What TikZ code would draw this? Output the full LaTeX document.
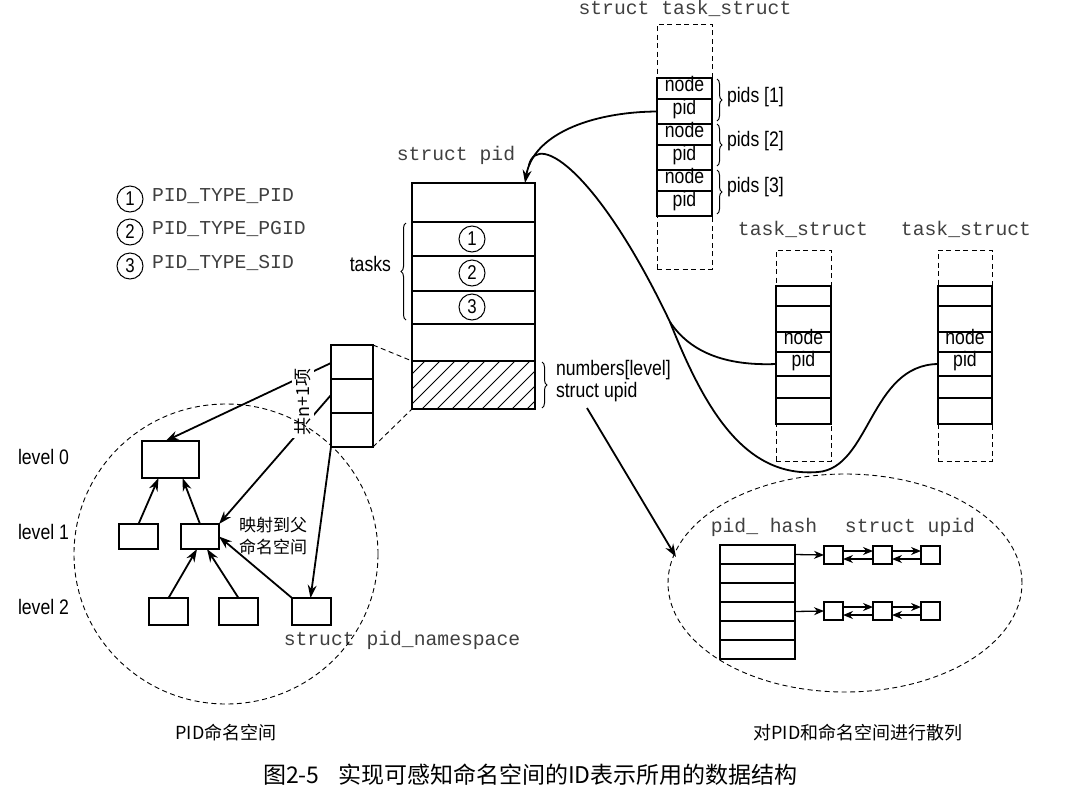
\documentclass[tikz,border=0pt]{standalone}
\usepackage{fontspec}
\setmainfont{Liberation Sans}[FakeStretch=0.84]
\newfontfamily\monofont{Liberation Mono}
\newfontfamily\cjkfont{Noto Sans CJK SC}
\usetikzlibrary{arrows.meta,decorations.pathreplacing,calc}
\begin{document}
\begin{tikzpicture}[x=1pt,y=-1pt,
  every node/.style={inner sep=0pt, outer sep=0pt},
  sanslab/.style={font=\fontsize{21}{23}\selectfont, text height=0.72em, text depth=0.2em},
  monolab/.style={font=\monofont\fontsize{19.7}{22}\selectfont, text=black!75, text height=0.62em, text depth=0.2em},
  cjklab/.style={font=\cjkfont\fontsize{17}{22}\selectfont},
  cellbox/.style={draw, line width=1.1pt, anchor=north west, sanslab},
  dbox/.style={draw, line width=0.9pt, dash pattern=on 5pt off 3.5pt, anchor=north west},
  circ/.style={draw, circle, line width=1pt, minimum size=26pt, font=\fontsize{20}{20}\selectfont},
  conn/.style={line width=1.8pt},
  arr/.style={conn, -{Stealth[length=13pt,width=9pt]}},
  sarr/.style={line width=1.3pt, -{Stealth[length=10pt,width=8pt]}},
  brc/.style={decorate, decoration={brace, amplitude=5pt}, line width=1pt},
  dl/.style={line width=0.9pt, dash pattern=on 5pt off 3.5pt},
]
\useasboundingbox (0,0) rectangle (1090,793);

% ---------- top task_struct ----------
\node[monolab] (tstitle) at (685,12) {struct task\_struct};
\node[dbox, minimum width=55pt, minimum height=245pt] (ts) at (657,24) {};
\node[cellbox, fill=white, minimum width=55pt, minimum height=21pt] (tsn1) at (657,78) {node};
\node[cellbox, fill=white, minimum width=55pt, minimum height=25pt] (tsp1) at (657,99) {pid};
\node[cellbox, fill=white, minimum width=55pt, minimum height=21pt] (tsn2) at (657,124) {node};
\node[cellbox, fill=white, minimum width=55pt, minimum height=25pt] (tsp2) at (657,145) {pid};
\node[cellbox, fill=white, minimum width=55pt, minimum height=21pt] (tsn3) at (657,170) {node};
\node[cellbox, fill=white, minimum width=55pt, minimum height=25pt] (tsp3) at (657,191) {pid};
\draw[brc] (717,79) -- (717,121);
\draw[brc] (717,124) -- (717,166);
\draw[brc] (717,170) -- (717,214);
\node[sanslab, anchor=west] (pids1) at (727,100) {pids [1]};
\node[sanslab, anchor=west] (pids2) at (727,144) {pids [2]};
\node[sanslab, anchor=west] (pids3) at (727,190) {pids [3]};

% ---------- legend ----------
\node[circ] (lg1) at (130,199) {1};
\node[circ] (lg2) at (130,232) {2};
\node[circ] (lg3) at (130,266) {3};
\node[monolab, anchor=west] (lt1) at (152,199) {PID\_TYPE\_PID};
\node[monolab, anchor=west] (lt2) at (152,232) {PID\_TYPE\_PGID};
\node[monolab, anchor=west] (lt3) at (152,266) {PID\_TYPE\_SID};

% ---------- struct pid ----------
\node[monolab] (sptitle) at (456,158) {struct pid};
\node[cellbox, minimum width=123pt, minimum height=39pt] (sp1) at (412,183) {};
\node[cellbox, minimum width=123pt, minimum height=34pt] (sp2) at (412,222) {};
\node[cellbox, minimum width=123pt, minimum height=35pt] (sp3) at (412,256) {};
\node[cellbox, minimum width=123pt, minimum height=33pt] (sp4) at (412,291) {};
\node[cellbox, minimum width=123pt, minimum height=37pt] (sp5) at (412,324) {};
\node[cellbox, minimum width=123pt, minimum height=48pt] (sph) at (412,361) {};
\begin{scope}
  \clip (sph.south west) rectangle (sph.north east);
  \foreach \i in {-50,-35,...,130} \draw[line width=0.9pt] (412+\i,409) -- (460+\i,361);
\end{scope}
\draw[line width=1.1pt] (sph.south west) rectangle (sph.north east);
\node[circ] (c1) at (472,239) {1};
\node[circ] (c2) at (472,273) {2};
\node[circ] (c3) at (472,307) {3};
\draw[brc] (406,320) -- (406,223);
\node[sanslab, anchor=east] (tasks) at (391,269) {tasks};
\draw[brc] (542,362) -- (542,408);
\node[sanslab, anchor=west] (numlab) at (556,373) {numbers[level]};
\node[sanslab, anchor=west] (upidlab) at (556,395) {struct upid};

% ---------- numbers array ----------
\node[cellbox, minimum width=42pt, minimum height=34pt] (a1) at (331,345) {};
\node[cellbox, minimum width=42pt, minimum height=34pt] (a2) at (331,379) {};
\node[cellbox, minimum width=42pt, minimum height=34pt] (a3) at (331,413) {};
\draw[dl] (a1.north east) -- (sph.north west);
\draw[dl] (a3.south east) -- (sph.south west);

% ---------- namespace tree ----------
\node[cellbox, minimum width=57pt, minimum height=37pt] (l0) at (142,441) {};
\node[cellbox, minimum width=39pt, minimum height=25pt] (l1a) at (119,524) {};
\node[cellbox, minimum width=38pt, minimum height=25pt] (l1b) at (181,524) {};
\node[cellbox, minimum width=39pt, minimum height=27pt] (l2a) at (149,598) {};
\node[cellbox, minimum width=39pt, minimum height=27pt] (l2b) at (219,598) {};
\node[cellbox, minimum width=39pt, minimum height=27pt] (l2c) at (292,598) {};
\draw[arr] (l1a.north) -- ($(l0.south)+(-12,0)$);
\draw[arr] (l1b.north) -- ($(l0.south)+(12,0)$);
\draw[arr] (l2a.north) -- ($(l1b.south)+(-3,0)$);
\draw[arr] (l2b.north) -- ($(l1b.south)+(7,0)$);
\draw[arr] (l2c.north west) -- (l1b.east);
\draw[arr] ($(a1.west)+(0,1)$) -- ($(l0.north)+(-5,0)$);
\draw[arr] ($(a2.west)+(0,-1)$) -- (l1b.north east);
\draw[arr] (a3.south west) -- ($(l2c.north)+(-1,0)$);
\node[cjklab, rotate=90, fill=white, inner sep=3pt, font=\cjkfont\fontsize{18}{20}\selectfont] (cnt) at (303,402) {共n+1项};
\node[cjklab, anchor=west, align=left] (map) at (239,536) {映射到父\\命名空间};
\node[sanslab, anchor=west] (lv0) at (18,462) {level 0};
\node[sanslab, anchor=west] (lv1) at (18,537) {level 1};
\node[sanslab, anchor=west] (lv2) at (18,612) {level 2};
\node[monolab] (nslab) at (402,643) {struct pid\_namespace};
\draw[dl] (226,554) ellipse [x radius=152pt, y radius=150pt];
\node[cjklab, font=\cjkfont\fontsize{18}{20}\selectfont] (pidns) at (226,733) {PID命名空间};

% ---------- middle and right task_struct ----------
\node[monolab] (mtitle) at (803,233) {task\_struct};
\node[monolab] (rtitle) at (966,233) {task\_struct};
\node[dbox, minimum width=55pt, minimum height=211pt] (mts) at (776,250) {};
\node[dbox, minimum width=54pt, minimum height=211pt] (rts) at (938,250) {};
\node[cellbox, fill=white, minimum width=55pt, minimum height=20pt] (m1) at (776,286) {};
\node[cellbox, fill=white, minimum width=55pt, minimum height=26pt] (m2) at (776,306) {};
\node[cellbox, fill=white, minimum width=55pt, minimum height=20pt] (m3) at (776,332) {node};
\node[cellbox, fill=white, minimum width=55pt, minimum height=24pt] (m4) at (776,352) {pid};
\node[cellbox, fill=white, minimum width=55pt, minimum height=22pt] (m5) at (776,376) {};
\node[cellbox, fill=white, minimum width=55pt, minimum height=26pt] (m6) at (776,398) {};
\node[cellbox, fill=white, minimum width=54pt, minimum height=20pt] (r1) at (938,286) {};
\node[cellbox, fill=white, minimum width=54pt, minimum height=26pt] (r2) at (938,306) {};
\node[cellbox, fill=white, minimum width=54pt, minimum height=20pt] (r3) at (938,332) {node};
\node[cellbox, fill=white, minimum width=54pt, minimum height=24pt] (r4) at (938,352) {pid};
\node[cellbox, fill=white, minimum width=54pt, minimum height=22pt] (r5) at (938,376) {};
\node[cellbox, fill=white, minimum width=54pt, minimum height=26pt] (r6) at (938,398) {};

% ---------- curves ----------
\draw[arr] (tsp1.west) .. controls (590,112) and (533,135) .. ($(sp1.north east)+(-10,0)$);
\coordinate (c2s) at (529,165);
\coordinate (J) at (670,322);
\draw[conn] (c2s) .. controls (538,130) and (600,175) .. (J);
\draw[conn] (J) .. controls (690,352) and (725,366) .. (m4.west);
\draw[conn] (J) .. controls (705,410) and (745,478) .. (818,472) .. controls (870,468) and (870,365) .. (r4.west);

% ---------- hash ----------
\coordinate (ua) at (587,408);
\coordinate (ub) at (676,557);
\draw[arr] (ua) -- (ub);
\node[monolab] (hashlab) at (764,530) {pid\_ hash};
\node[monolab] (upidt) at (910,530) {struct upid};
\node[cellbox, minimum width=75pt, minimum height=19pt] (h1) at (720,545) {};
\node[cellbox, minimum width=75pt, minimum height=19pt] (h2) at (720,564) {};
\node[cellbox, minimum width=75pt, minimum height=19pt] (h3) at (720,583) {};
\node[cellbox, minimum width=75pt, minimum height=19pt] (h4) at (720,602) {};
\node[cellbox, minimum width=75pt, minimum height=19pt] (h5) at (720,621) {};
\node[cellbox, minimum width=75pt, minimum height=19pt] (h6) at (720,640) {};
\node[cellbox, minimum width=19pt, minimum height=18pt] (u11) at (824,546) {};
\node[cellbox, minimum width=19pt, minimum height=18pt] (u12) at (873,546) {};
\node[cellbox, minimum width=19pt, minimum height=18pt] (u13) at (921,546) {};
\node[cellbox, minimum width=19pt, minimum height=18pt] (u21) at (824,602) {};
\node[cellbox, minimum width=19pt, minimum height=18pt] (u22) at (873,602) {};
\node[cellbox, minimum width=19pt, minimum height=18pt] (u23) at (921,602) {};
\draw[sarr] (h1.east) -- (u11.west);
\draw[sarr] (h4.east) -- (u21.west);
\foreach \a/\b in {u11/u12,u12/u13,u21/u22,u22/u23}{
  \draw[sarr] ($(\a.east)+(0,-4)$) -- ($(\b.west)+(0,-4)$);
  \draw[sarr] ($(\b.west)+(0,4)$) -- ($(\a.east)+(0,4)$);
}
\draw[dl] (845,583) ellipse [x radius=177pt, y radius=109pt];
\node[cjklab, font=\cjkfont\fontsize{18}{20}\selectfont] (hashcap) at (858,733) {对PID和命名空间进行散列};

% ---------- caption ----------
\node[anchor=west, font=\cjkfont\fontsize{23}{26}\selectfont] (cap1) at (263,775) {图2-5};
\node[anchor=west, font=\cjkfont\fontsize{23}{26}\selectfont] (cap2) at (338,775) {实现可感知命名空间的ID表示所用的数据结构};
\end{tikzpicture}
\end{document}
